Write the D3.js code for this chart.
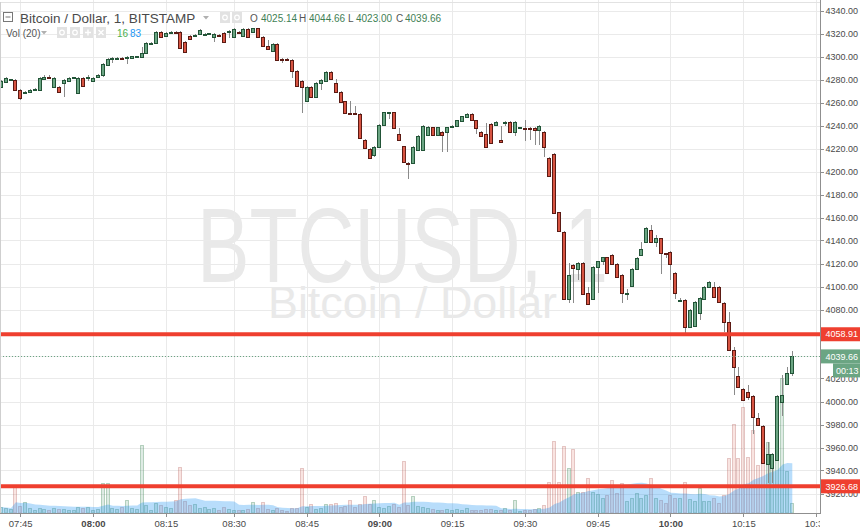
<!DOCTYPE html>
<html><head><meta charset="utf-8">
<script src="https://cdn.jsdelivr.net/npm/d3@7"></script>
<style>
html,body{margin:0;padding:0;background:#fff;}
svg{display:block;font-family:"Liberation Sans",Arial,sans-serif;}
</style></head><body>
<svg id="c" width="860" height="528"></svg>
<script>
// ---------------- DATA ----------------
const symbolTitle = "Bitcoin / Dollar, 1, BITSTAMP";
const watermarkMain = "BTCUSD, 1";
const watermarkSub = "Bitcoin / Dollar";
const volTitle = "Vol (20)";
const countdown = "00:13";

const times = [
"07:41","07:42","07:43","07:44","07:45","07:46","07:47","07:48","07:49","07:50","07:51","07:52","07:53","07:54","07:55","07:56","07:57","07:58","07:59",
"08:00","08:01","08:02","08:03","08:04","08:05","08:06","08:07","08:08","08:09","08:10","08:11","08:12","08:13","08:14","08:15","08:16","08:17","08:18","08:19","08:20","08:21","08:22","08:23","08:24","08:25","08:26","08:27",
"08:29","08:30","08:31","08:32","08:33","08:34","08:35","08:36","08:37","08:38","08:39","08:40","08:41","08:42","08:43","08:44","08:45","08:46","08:47","08:48","08:49","08:50","08:51","08:52","08:53","08:54","08:55","08:56","08:57","08:58","08:59",
"09:00","09:01","09:02","09:03","09:04","09:05","09:06","09:07","09:08","09:09","09:10","09:11","09:12","09:13","09:14","09:15","09:16","09:17","09:18","09:19","09:20","09:21","09:22","09:23","09:24","09:25","09:26","09:27","09:28","09:29","09:30","09:31","09:32","09:33","09:34","09:35","09:36","09:37","09:38","09:39","09:40","09:41","09:42","09:43","09:44","09:45","09:46","09:47","09:48","09:49","09:50","09:51","09:52","09:53","09:54","09:55","09:56","09:57","09:58","09:59",
"10:00","10:01","10:02","10:03","10:04","10:05","10:06","10:07","10:08","10:09","10:10","10:11","10:12","10:13","10:14","10:15","10:16","10:17","10:18","10:19","10:20","10:21","10:22","10:23","10:24","10:25"];
const futureTimes = ["10:26","10:27","10:28","10:29","10:30"];

const open = [
4274,4278,4280,4280,4271,4269,4269.5,4271,4271,4281,4283,4274,4274,4277,4279,4282,4269,4282,4282.5,
4279,4282.5,4284,4293,4299,4299,4299.5,4299,4299,4300,4300,4303.5,4312,4312,4322,4318,4321.5,4322,4322,4313,4318,4319,4320,4320,4320,4317.5,4319.5,4321,
4322,4317.5,4322,4318.5,4324.5,4322,4325,4317.5,4309.5,4305,4311,4298.5,4298.5,4297.5,4288,4279,4262,4274,4265,4277,4279,4287,4277,4269.5,4261.5,4251.5,4251.5,4250.5,4228,4220,4215,
4222,4241,4252,4252,4233,4222.5,4208,4208,4219,4219,4232,4239,4232,4235,4234.5,4240,4240,4244.5,4248,4250.5,4245,4235,4233,4242,4241,4228,4243.5,4243.5,4235,4239,4238.5,4238.3,4238.3,4236.5,4234.8,4212,4215.5,4165,4147.8,4089.6,4119,4115.7,4121,4095,4089.6,4117.4,4122.6,4126,4127.8,4120,4110.4,4094.8,4101,4115.7,4127.8,4139.1,4149.6,4139.1,4142.6,4129.6,
4130.4,4112.2,4088.7,4088.7,4065.2,4066,4077.4,4090,4100,4100,4100,4086.1,4069.6,4045.2,4022.6,4011.3,4008.7,4005.2,3986.1,3979.1,3946.1,3942.6,3949.6,4000,4015.7,4025.14];

const high = [
4280,4283,4281,4281,4272,4270,4272,4273,4283,4284,4284.5,4283,4275,4281,4282.5,4283,4283,4283,4284,
4283,4285,4295,4299,4300,4300,4300,4301,4301,4301,4308.7,4313,4313,4323,4323,4322,4322.5,4322.5,4323,4314,4319,4320,4324,4320.5,4321,4320.5,4320,4321.5,
4323.5,4325,4322.5,4325,4325,4325.5,4325.5,4318,4314.8,4312,4312,4299,4299,4298,4288.5,4280,4275,4275,4278,4280.5,4288,4288,4281,4270,4262,4261.5,4257,4251,4228.5,4220.5,4223,
4242,4252.5,4252.5,4252.5,4238,4223,4208.5,4222.5,4232,4240.5,4240,4239.5,4239.5,4235.5,4239.5,4240.5,4245.5,4249,4251,4251,4245.5,4235.5,4243,4243,4244,4240,4244,4244,4244,4239.5,4245,4239,4239,4240.5,4235.5,4213,4216.5,4165.5,4148.5,4120.9,4120,4121.5,4121.5,4100,4118,4123,4126.5,4126.5,4128.3,4120.5,4111,4098,4116.2,4125.7,4139,4151.8,4153.9,4145,4143,4130,
4131,4112.7,4090.4,4089.2,4080.5,4087.5,4091,4100.5,4105,4104.3,4100.5,4086.6,4078.3,4047.5,4030.4,4011.8,4015,4005.7,3990.4,3979.6,3965.2,3955.3,4005.7,4023.5,4030.4,4044.66];

const low = [
4273,4277,4279,4270,4263,4268,4269,4270,4270,4281,4281,4273,4269,4265,4278,4281,4268,4274,4279,
4278,4282,4283,4292,4295,4298,4298.5,4294,4298.5,4299,4299.5,4303,4311.5,4311.5,4317,4317.5,4321,4321,4307,4304,4315.5,4318.5,4319.5,4319.5,4319.5,4313,4318.5,4312.5,
4316.5,4317,4321,4318,4317,4321.5,4317,4309,4306.5,4304.5,4297,4295,4298,4282,4274,4251,4261,4264,4264,4271,4278,4280,4269,4260,4251,4251,4251,4229,4220,4211,4213,
4221,4240,4246,4237.5,4227.5,4208,4194,4207.5,4218,4218.5,4231.5,4231.5,4231.5,4217,4217,4239.5,4239.5,4244,4247.5,4244.5,4233,4230.5,4221.5,4224.5,4240.5,4225.5,4240,4234.5,4231,4238.5,4227,4228,4223.5,4223.5,4213,4196,4164,4148,4089,4086.1,4086,4106,4093.5,4084.7,4089,4095,4119,4111.7,4119.5,4108,4086,4088.7,4100.5,4115.2,4127.3,4138.6,4138.6,4135,4111,4125,
4106,4089.6,4088,4060,4064.7,4065.5,4071.3,4089.5,4099.5,4090.8,4086.5,4060.9,4044.7,4006.1,4012.5,4001.2,4001.7,3972.2,3979.5,3946.4,3929.6,3929.6,3949.1,3987.8,4015.2,4023.00];

const close = [
4279,4282,4280.5,4271,4264,4269.5,4271,4272,4282,4283,4281.5,4282,4269.5,4280,4282,4282.5,4282,4275,4283,
4282,4284.5,4294,4298,4299.5,4299.5,4299,4300,4300.5,4300.5,4303.5,4312,4312.5,4322,4317.5,4321,4322,4321.5,4308,4304.5,4316,4319.5,4323.5,4320,4320.5,4320,4319,4313,
4322.5,4324.5,4321.5,4324.5,4317.5,4325,4317.5,4309.5,4307,4311,4297.5,4298,4298.3,4288,4275,4274,4274,4265,4277,4280,4287,4281,4269.5,4261,4251.5,4251.3,4251.3,4229.5,4221,4212,4222,
4241,4252,4252.2,4238,4228,4208.5,4207.8,4222,4231,4240,4239,4232,4239,4232,4239,4240.2,4245,4248.5,4250.5,4245,4238,4231,4222,4225,4243.5,4226,4243.7,4235,4243.5,4239.2,4238.3,4238.2,4236.5,4240,4221.7,4196.5,4164.5,4148.5,4089.6,4110.4,4116.5,4121,4094,4085.2,4117.4,4122.6,4126,4112.2,4120,4108.7,4094.8,4095,4115.7,4125.2,4133,4151.3,4139.1,4142.6,4129.6,4129.4,
4120,4094.8,4089,4065.2,4080,4087,4090.4,4100,4104.3,4091.3,4087,4069.6,4045.2,4030.4,4013,4001.7,4004.3,3987,3980,3946.9,3954.8,3954.8,4005.2,4006.1,4025.2,4039.66];

const volume = [
10,8,7,47,12,18,8,5,8,7,5,8,7,7,5,5,10,8,10,
5,7,50,50,8,7,10,22,8,7,113,13,5,17,13,10,8,22,77,20,13,15,8,10,7,8,5,10,
7,5,5,5,7,18,8,18,7,5,8,5,3,8,8,75,10,15,7,8,15,15,17,10,12,22,10,15,28,15,22,
10,8,12,15,10,87,13,28,12,10,8,7,5,5,7,5,7,5,8,5,5,5,7,7,5,5,8,5,22,3,5,5,7,8,13,52,120,52,112,75,107,35,35,58,35,32,25,30,55,33,50,20,25,33,25,30,58,25,22,17,
30,25,25,52,23,20,42,20,20,25,17,30,92,148,92,177,93,138,80,85,118,80,93,225,70,16];

const priceTicks = [4340,4320,4300,4280,4260,4240,4220,4200,4180,4160,4140,4120,4100,4080,4060,4040,4020,4000,3980,3960,3940,3920];
const timeTicks = ["07:45","08:00","08:15","08:30","08:45","09:00","09:15","09:30","09:45","10:00","10:15","10:30"];
const boldTimeTicks = ["08:00","09:00","10:00"];
const hLines = [4058.91, 3926.68];
const maLength = 20;

// ---------------- SETUP ----------------
const W = 860, H = 528, plotR = 820, plotB = 513;
const svg = d3.select("#c");
svg.append("rect").attr("width", W).attr("height", H).attr("fill", "#fff");

const x = d3.scaleBand().domain(times.concat(futureTimes)).range([-1.114, 819.0]).paddingInner(0).paddingOuter(0);
const cx = t => x(t) + x.bandwidth() / 2;
const y = d3.scaleLinear().domain([4340, 3920]).range([11, 494]);
const yv = d3.scaleLinear().domain([0, 200]).range([plotB, 393]);

const bars = times.map((t, i) => ({t, o: open[i], h: high[i], l: low[i], c: close[i], v: volume[i]}));
// volume moving average (indicator derived from the volume series)
bars.forEach((b, i) => {
  const s = bars.slice(Math.max(0, i - maLength + 1), i + 1);
  b.ma = d3.mean(s, d => d.v);
});

const defs = svg.append("defs");
defs.append("clipPath").attr("id", "plot").append("rect").attr("x", 0).attr("y", 0).attr("width", plotR).attr("height", plotB);
const plot = svg.append("g").attr("clip-path", "url(#plot)");

// watermark
plot.append("text").attr("x", 197).attr("y", 282).attr("font-size", 106)
  .attr("textLength", 411).attr("lengthAdjust", "spacingAndGlyphs")
  .attr("fill", "#e9e9e9").text(watermarkMain);
plot.append("text").attr("x", 268).attr("y", 318).attr("font-size", 44)
  .attr("textLength", 289).attr("lengthAdjust", "spacingAndGlyphs")
  .attr("fill", "#e9e9e9").text(watermarkSub);

// grid
const crisp = v => Math.floor(v) + 0.5;
plot.append("g").selectAll("line").data(priceTicks).join("line")
  .attr("x1", 0).attr("x2", plotR)
  .attr("y1", d => crisp(y(d))).attr("y2", d => crisp(y(d)))
  .attr("stroke", "#eaeaea").attr("stroke-width", 1);
plot.append("g").selectAll("line").data(timeTicks).join("line")
  .attr("y1", 0).attr("y2", plotB)
  .attr("x1", d => crisp(cx(d))).attr("x2", d => crisp(cx(d)))
  .attr("stroke", "#eaeaea").attr("stroke-width", 1);

// volume bars
const upCol = "#6ba583", upBorder = "#225437", dnCol = "#d75442", dnBorder = "#5b1a13";
plot.append("g").selectAll("rect").data(bars).join("rect")
  .attr("x", d => Math.floor(cx(d.t)) - 1.5)
  .attr("width", 3)
  .attr("y", d => Math.round(yv(d.v)) + 0.5)
  .attr("height", d => Math.max(plotB - Math.round(yv(d.v)) - 0.5, 0.5))
  .attr("fill", d => d.c >= d.o ? "rgba(107,165,131,0.22)" : "rgba(215,84,66,0.16)")
  .attr("stroke", d => d.c >= d.o ? "rgba(90,150,110,0.40)" : "rgba(180,100,95,0.32)")
  .attr("stroke-width", 1);

// volume MA area
const area = d3.area().x(d => cx(d.t)).y0(plotB).y1(d => yv(d.ma));
plot.append("path").datum(bars).attr("d", area).attr("fill", "rgba(33,150,243,0.32)");

// candles: wicks
plot.append("g").selectAll("rect").data(bars).join("rect")
  .attr("x", d => Math.floor(cx(d.t)))
  .attr("width", 1)
  .attr("y", d => Math.round(y(d.h)))
  .attr("height", d => Math.max(Math.round(y(d.l)) - Math.round(y(d.h)), 1))
  .attr("fill", "#8a8a8a");

// candles: bodies
const bodyG = plot.append("g");
bars.forEach(d => {
  const n = Math.floor(cx(d.t));
  const top = Math.round(y(Math.max(d.o, d.c)));
  const bot = Math.round(y(Math.min(d.o, d.c)));
  const hgt = Math.max(bot - top, 1) + 1;
  const up = d.c >= d.o;
  bodyG.append("rect").attr("x", n - 2).attr("width", 4).attr("y", top).attr("height", hgt)
    .attr("fill", up ? upBorder : dnBorder);
  if (hgt > 2) {
    bodyG.append("rect").attr("x", n - 1).attr("width", 2).attr("y", top + 1).attr("height", hgt - 2)
      .attr("fill", up ? upCol : dnCol);
  }
});

// last price dotted line
const last = bars[bars.length - 1];
plot.append("line").attr("x1", 0).attr("x2", plotR)
  .attr("y1", crisp(y(last.c))).attr("y2", crisp(y(last.c)))
  .attr("stroke", "#6ba583").attr("stroke-width", 1).attr("stroke-dasharray", "1,2");

// horizontal drawn lines
plot.append("g").selectAll("line").data(hLines).join("line")
  .attr("x1", 0).attr("x2", plotR)
  .attr("y1", d => y(d)).attr("y2", d => y(d))
  .attr("stroke", "#ef3f2f").attr("stroke-width", 4);

// borders
svg.append("line").attr("x1", 0).attr("x2", W).attr("y1", 2.5).attr("y2", 2.5).attr("stroke", "#e2e2e2");
svg.append("line").attr("x1", 0.5).attr("x2", 0.5).attr("y1", 2).attr("y2", plotB).attr("stroke", "#cfcfcf");

// time axis
svg.append("line").attr("x1", 0).attr("x2", plotR).attr("y1", plotB + 0.5).attr("y2", plotB + 0.5).attr("stroke", "#8f8f8f").attr("stroke-width", 1);
svg.append("g").selectAll("line").data(timeTicks).join("line")
  .attr("x1", d => crisp(cx(d))).attr("x2", d => crisp(cx(d)))
  .attr("y1", plotB).attr("y2", plotB + 4).attr("stroke", "#8f8f8f");
svg.append("g").selectAll("text").data(timeTicks).join("text")
  .attr("x", d => cx(d)).attr("y", 526.5).attr("text-anchor", "middle")
  .attr("font-size", 9.5).attr("fill", "#4a4a4a")
  .attr("font-weight", d => boldTimeTicks.includes(d) ? "bold" : "normal")
  .text(d => d);

// price axis
svg.append("rect").attr("x", plotR).attr("y", 0).attr("width", W - plotR).attr("height", H).attr("fill", "#fff");
svg.append("line").attr("x1", plotR + 0.5).attr("x2", plotR + 0.5).attr("y1", 0).attr("y2", plotB + 1).attr("stroke", "#8f8f8f");
svg.append("g").selectAll("line").data(priceTicks).join("line")
  .attr("x1", plotR).attr("x2", plotR + 4)
  .attr("y1", d => crisp(y(d))).attr("y2", d => crisp(y(d))).attr("stroke", "#8f8f8f");
svg.append("g").selectAll("text").data(priceTicks).join("text")
  .attr("x", 825.5).attr("y", d => y(d) + 3.2)
  .attr("font-size", 9).attr("fill", "#4a4a4a")
  .text(d => d.toFixed(2));

function axisBox(yc, x0, color, label, tx) {
  svg.append("rect").attr("x", x0).attr("y", yc - 7).attr("width", W - x0).attr("height", 14).attr("fill", color);
  svg.append("text").attr("x", tx).attr("y", yc + 3.2).attr("font-size", 9).attr("fill", "#fff").text(label);
}
hLines.forEach(p => axisBox(y(p), plotR + 1, "#ef3f2f", p.toFixed(2), 825.5));
axisBox(y(last.c), plotR + 1, "#6ba583", last.c.toFixed(2), 825.5);
axisBox(y(last.c) + 14, 833, "#6ba583", countdown, 836);

// ---------------- LEGEND ----------------
const lg = svg.append("g");
lg.append("rect").attr("x", 3.5).attr("y", 12.5).attr("width", 9).attr("height", 9).attr("fill", "#fff").attr("stroke", "#777");
lg.append("line").attr("x1", 5.5).attr("x2", 10.5).attr("y1", 17).attr("y2", 17).attr("stroke", "#777");
lg.append("text").attr("x", 20).attr("y", 22.5).attr("font-size", 13.5).attr("fill", "#4a4a4a").text(symbolTitle);
lg.append("path").attr("d", "M203,16 L209,16 L206,19.5 Z").attr("fill", "#b0b0b0");
[220, 232].forEach(bx => {
  lg.append("rect").attr("x", bx).attr("y", 12).attr("width", 10).attr("height", 11).attr("fill", "#e2e2e2");
  lg.append("circle").attr("cx", bx + 5).attr("cy", 17.5).attr("r", 2.3).attr("fill", "none").attr("stroke", "#fff").attr("stroke-width", 1.2);
});
const ohlc = [["O", last.o], ["H", last.h], ["L", last.l], ["C", last.c]];
const ohlcX = [[250, 261], [299, 309], [348, 356], [396, 405]];
ohlc.forEach(([k, v], i) => {
  lg.append("text").attr("x", ohlcX[i][0]).attr("y", 22).attr("font-size", 10).attr("fill", "#555").text(k);
  lg.append("text").attr("x", ohlcX[i][1]).attr("y", 22).attr("font-size", 10).attr("fill", "#3f7f55").text(v.toFixed(2));
});

lg.append("text").attr("x", 6).attr("y", 36.5).attr("font-size", 10).attr("fill", "#555").text(volTitle);
lg.append("path").attr("d", "M41,31 L47,31 L44,34.5 Z").attr("fill", "#b0b0b0");
[57, 70, 83, 96].forEach((bx, i) => {
  lg.append("rect").attr("x", bx).attr("y", 27).attr("width", 10).attr("height", 11).attr("fill", "#e2e2e2");
  if (i < 2) lg.append("circle").attr("cx", bx + 5).attr("cy", 32.5).attr("r", 2.3).attr("fill", "none").attr("stroke", "#fff").attr("stroke-width", 1.2);
  else if (i === 2) lg.append("path").attr("d", `M${bx+2},32.5 H${bx+8} M${bx+5},29.5 V35.5`).attr("stroke", "#fff").attr("stroke-width", 1.4);
  else lg.append("path").attr("d", `M${bx+2.5},30 L${bx+7.5},35 M${bx+7.5},30 L${bx+2.5},35`).attr("stroke", "#fff").attr("stroke-width", 1.4);
});
lg.append("text").attr("x", 117).attr("y", 36.5).attr("font-size", 10).attr("fill", "#4caf50").text(String(last.v));
lg.append("text").attr("x", 130).attr("y", 36.5).attr("font-size", 10).attr("fill", "#2196f3").text(String(Math.round(last.ma)));
</script>
</body></html>
